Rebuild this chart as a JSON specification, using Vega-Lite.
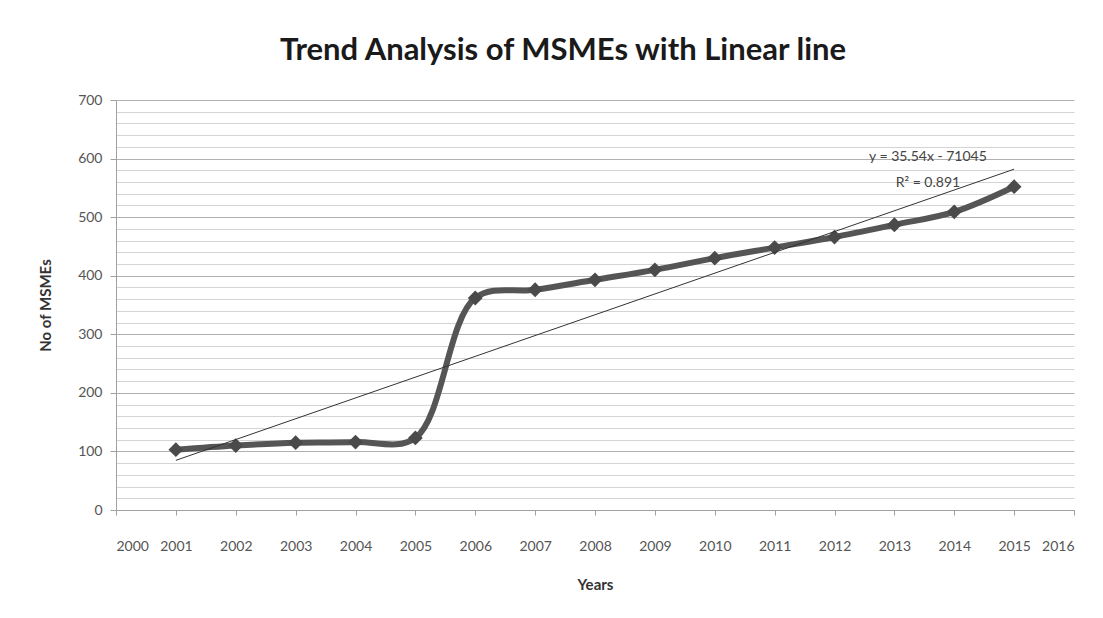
{
  "$schema": "https://vega.github.io/schema/vega-lite/v6.json",
  "width": 958,
  "height": 410,
  "autosize": {"type": "none"},
  "padding": {"left": 116, "top": 100, "right": 29, "bottom": 108},
  "background": "white",
  "title": {
    "text": "Trend Analysis of MSMEs with Linear line",
    "font": "Lato",
    "fontSize": 31,
    "fontWeight": "bold",
    "color": "#1a1a1a",
    "anchor": "middle",
    "offset": 26,
    "dx": -32
  },
  "config": {
    "view": {"stroke": null},
    "font": "Lato",
    "axis": {
      "labelFont": "Lato",
      "labelFontSize": 14,
      "labelColor": "#555555",
      "titleFont": "Lato",
      "titleFontSize": 15,
      "titleFontWeight": "bold",
      "titleColor": "#333333",
      "domainColor": "#a0a0a0",
      "tickColor": "#a0a0a0"
    }
  },
  "data": {
    "values": [
      {"year": 2001, "msmes": 103},
      {"year": 2002, "msmes": 110},
      {"year": 2003, "msmes": 115},
      {"year": 2004, "msmes": 116},
      {"year": 2005, "msmes": 123},
      {"year": 2006, "msmes": 362},
      {"year": 2007, "msmes": 376},
      {"year": 2008, "msmes": 393},
      {"year": 2009, "msmes": 410},
      {"year": 2010, "msmes": 430},
      {"year": 2011, "msmes": 448},
      {"year": 2012, "msmes": 466},
      {"year": 2013, "msmes": 487},
      {"year": 2014, "msmes": 509},
      {"year": 2015, "msmes": 552}
    ]
  },
  "encoding": {
    "x": {
      "field": "year",
      "type": "quantitative",
      "title": "Years",
      "scale": {"domain": [2000, 2016], "nice": false, "zero": false},
      "axis": {
        "values": [2000, 2001, 2002, 2003, 2004, 2005, 2006, 2007, 2008, 2009, 2010, 2011, 2012, 2013, 2014, 2015, 2016],
        "format": "d",
        "grid": false,
        "tickSize": 5,
        "labelPadding": 24,
        "titlePadding": 24
      }
    },
    "y": {
      "field": "msmes",
      "type": "quantitative",
      "title": "No of MSMEs",
      "scale": {"domain": [0, 700], "nice": false},
      "axis": {
        "values": [0, 20, 40, 60, 80, 100, 120, 140, 160, 180, 200, 220, 240, 260, 280, 300, 320, 340, 360, 380, 400, 420, 440, 460, 480, 500, 520, 540, 560, 580, 600, 620, 640, 660, 680, 700],
        "labelExpr": "datum.value % 100 === 0 ? datum.label : ''",
        "grid": true,
        "gridColor": {"condition": {"test": "datum.value % 100 === 0", "value": "#b0b0b0"}, "value": "#d4d4d4"},
        "tickOpacity": {"condition": {"test": "datum.value % 100 === 0", "value": 1}, "value": 0},
        "tickSize": 6,
        "labelPadding": 8,
        "titlePadding": 24
      }
    }
  },
  "layer": [
    {
      "mark": {"type": "line", "interpolate": "catmull-rom", "color": "#555555", "strokeWidth": 6}
    },
    {
      "mark": {"type": "point", "shape": "diamond", "filled": true, "size": 220, "color": "#4a4a4a", "opacity": 1}
    },
    {
      "transform": [{"regression": "msmes", "on": "year"}],
      "mark": {"type": "line", "color": "#333333", "strokeWidth": 1}
    },
    {
      "data": {
        "values": [
          {"year": 2013.56, "msmes": 603, "label": "y = 35.54x - 71045"},
          {"year": 2013.56, "msmes": 558, "label": "R² = 0.891"}
        ]
      },
      "mark": {"type": "text", "font": "Lato", "fontSize": 14, "color": "#444444", "align": "center", "baseline": "middle"},
      "encoding": {
        "text": {"field": "label", "type": "nominal"}
      }
    }
  ]
}
